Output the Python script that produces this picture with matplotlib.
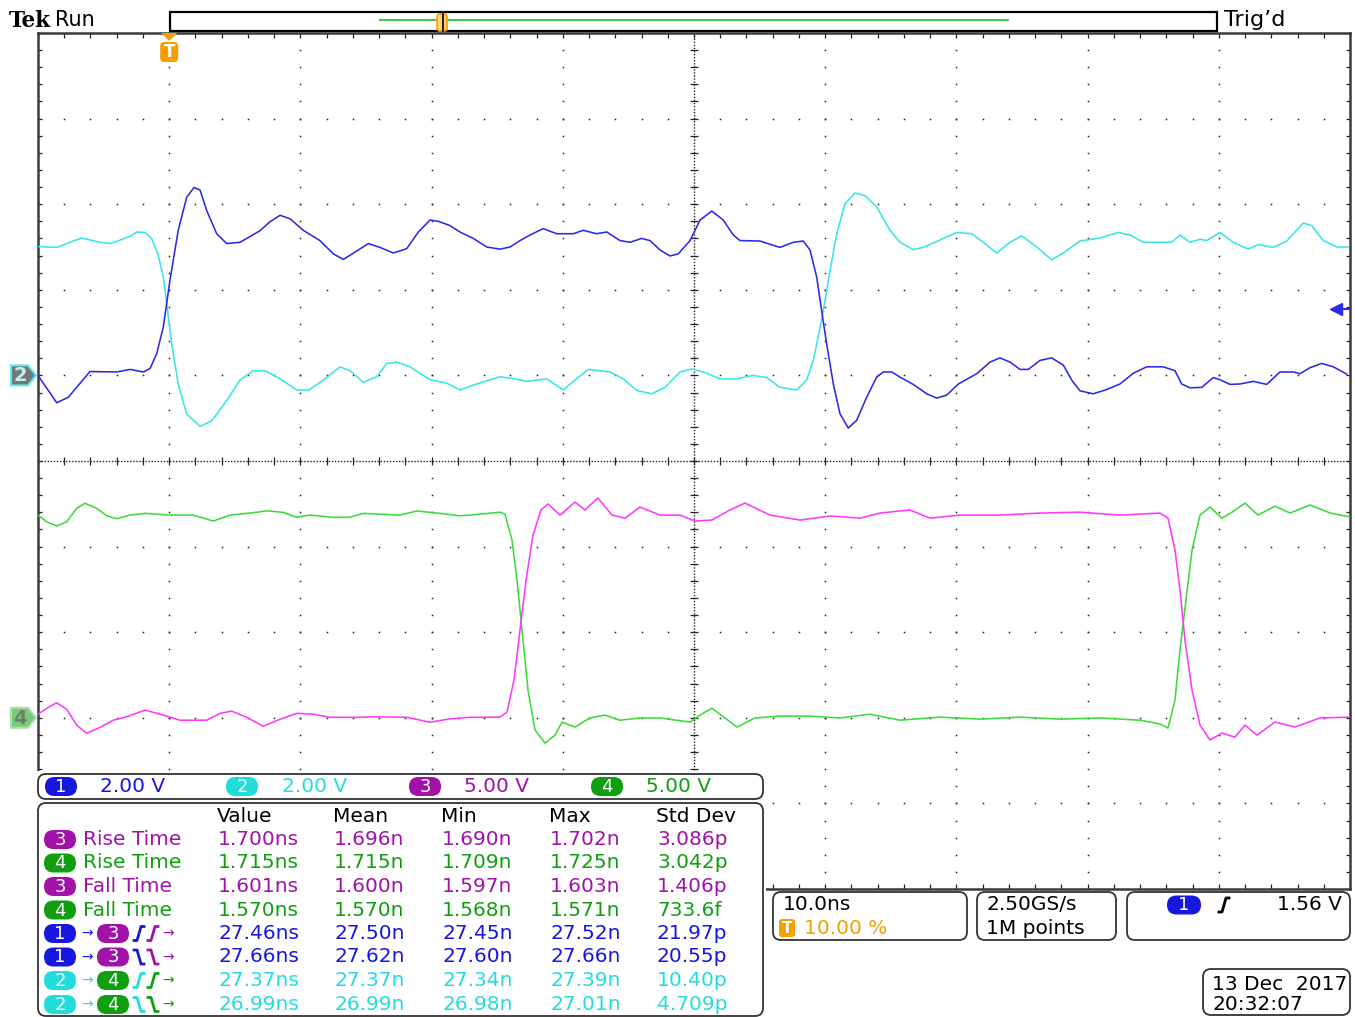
import matplotlib
matplotlib.use('Agg')
import matplotlib.pyplot as plt
from matplotlib.patches import FancyBboxPatch, Polygon, Rectangle
from matplotlib.collections import LineCollection
import numpy as np

plt.rcParams['font.family'] = ['DejaVu Sans']

# ---------------- data (time in ns, trigger at 0; voltage in V) ----------------
ch1_t = [-10.0, -8.57, -7.69, -6.04, -4.00, -2.99, -1.97, -1.46, -0.95, -0.45, 0.06, 0.69, 1.33, 1.89,
         2.35, 2.86, 3.62, 4.38, 5.40, 6.92, 7.68, 8.45, 9.21, 10.22, 11.49, 12.51, 13.27, 14.16, 15.18,
         16.07, 17.08, 18.10, 18.99, 19.88, 20.51, 21.40, 22.16, 23.18, 24.20, 25.21, 25.98, 26.74, 27.50,
         28.51, 29.53, 30.80, 31.56, 32.58, 33.35, 34.36, 35.12, 36.01, 36.65, 37.41, 38.17, 38.80, 39.70,
         40.46, 41.35, 42.23, 43.00, 43.51, 45.03, 46.55, 47.57, 48.33, 48.84, 49.35, 49.73, 50.11, 50.62,
         51.13, 51.76, 52.40, 53.16, 53.92, 54.43, 55.07, 55.70, 56.71, 57.74, 58.50, 59.26, 60.15, 61.55,
         62.56, 63.32, 64.09, 64.85, 65.48, 66.37, 67.26, 68.15, 68.79, 69.42, 70.43, 71.46, 72.47, 73.48,
         74.50, 75.77, 76.66, 77.17, 77.80, 78.70, 79.58, 80.09, 80.85, 81.62, 82.63, 83.65, 84.66, 85.68,
         86.19, 86.95, 87.84, 88.73, 89.75]
ch1_v = [0.00, -0.64, -0.51, 0.09, 0.08, 0.14, 0.08, 0.16, 0.51, 1.13, 2.23, 3.39, 4.16, 4.39,
         4.33, 3.85, 3.31, 3.08, 3.11, 3.38, 3.59, 3.74, 3.66, 3.39, 3.15, 2.84, 2.71, 2.88, 3.08,
         2.99, 2.86, 2.96, 3.35, 3.63, 3.60, 3.50, 3.35, 3.20, 3.00, 2.95, 3.00, 3.15, 3.28,
         3.43, 3.31, 3.31, 3.39, 3.31, 3.35, 3.15, 3.11, 3.20, 3.15, 2.93, 2.79, 2.84, 3.15,
         3.63, 3.84, 3.63, 3.28, 3.15, 3.14, 2.99, 3.11, 3.14, 2.93, 2.30, 1.51, 0.74, -0.20,
         -0.90, -1.23, -1.05, -0.51, -0.04, 0.08, 0.08, -0.04, -0.21, -0.43, -0.53, -0.46, -0.20, 0.04,
         0.31, 0.41, 0.31, 0.14, 0.14, 0.35, 0.41, 0.24, -0.11, -0.36, -0.43, -0.33, -0.20, 0.05,
         0.20, 0.20, 0.11, -0.20, -0.29, -0.28, -0.05, -0.10, -0.21, -0.20, -0.14, -0.21, 0.08, 0.08,
         0.04, 0.18, 0.28, 0.20, 0.03]

ch2_t = [-10.0, -8.57, -7.56, -6.67, -5.27, -4.51, -4.00, -2.99, -2.48, -1.84, -1.33, -0.83, -0.45, -0.19,
         0.19, 0.69, 1.33, 2.35, 3.24, 4.38, 5.40, 6.41, 7.30, 8.45, 9.72, 10.60, 11.75, 13.02, 13.78,
         14.79, 15.82, 16.58, 17.34, 18.35, 19.88, 21.15, 22.16, 23.44, 25.21, 26.36, 27.25, 28.77, 30.04,
         30.93, 31.94, 33.60, 34.61, 35.63, 36.78, 37.79, 38.93, 39.82, 40.71, 41.98, 43.25, 44.52, 45.54,
         46.55, 47.83, 48.59, 49.09, 49.47, 49.86, 50.37, 50.88, 51.51, 52.27, 53.03, 53.92, 54.94, 55.70,
         56.71, 57.48, 58.50, 60.02, 61.17, 62.05, 63.07, 64.09, 64.98, 66.12, 67.26, 68.15, 69.42, 70.95,
         72.34, 73.23, 74.25, 76.41, 77.04, 77.80, 78.57, 79.08, 80.09, 81.10, 82.25, 83.01, 84.15, 85.18,
         86.44, 87.08, 87.96, 88.99, 89.87]
ch2_v = [3.01, 2.99, 3.11, 3.21, 3.11, 3.08, 3.13, 3.25, 3.35, 3.34, 3.19, 2.80, 2.30, 1.68,
         0.74, -0.20, -0.90, -1.19, -1.06, -0.59, -0.11, 0.11, 0.11, -0.08, -0.34, -0.35, -0.11, 0.20, 0.11,
         -0.16, -0.03, 0.28, 0.31, 0.20, -0.10, -0.18, -0.34, -0.20, -0.03, -0.08, -0.14, -0.08, -0.34,
         -0.11, 0.14, 0.08, -0.08, -0.35, -0.43, -0.28, 0.08, 0.15, 0.08, -0.08, -0.08, 0.00, -0.05,
         -0.28, -0.34, -0.11, 0.35, 0.90, 1.51, 2.45, 3.31, 4.01, 4.26, 4.20, 3.94, 3.39, 3.11,
         2.94, 2.99, 3.13, 3.34, 3.31, 3.11, 2.86, 3.11, 3.26, 3.00, 2.70, 2.86, 3.14, 3.21,
         3.34, 3.28, 3.11, 3.11, 3.28, 3.11, 3.18, 3.15, 3.34, 3.11, 2.95, 3.06, 2.99, 3.14,
         3.56, 3.50, 3.15, 3.00, 3.00]

ch3_t = [-10.0, -9.34, -8.57, -7.81, -7.05, -6.29, -5.27, -4.26, -3.24, -1.84, -0.45, 0.82, 2.86, 3.87,
         4.76, 5.91, 7.17, 8.45, 9.72, 10.98, 12.26, 14.79, 15.56, 18.10, 19.88, 21.40, 22.93, 25.21,
         25.75, 26.28, 26.74, 27.20, 27.73, 28.34, 28.87, 29.79, 30.93, 31.69, 32.68, 33.75, 34.74, 35.88,
         37.41, 38.93, 40.08, 41.37, 42.74, 43.89, 45.79, 48.08, 50.37, 52.65, 54.18, 56.46, 57.99, 60.27,
         63.32, 66.37, 69.42, 72.47, 75.52, 76.13, 76.66, 77.04, 77.42, 77.96, 78.57, 79.33, 80.24, 81.23,
         82.00, 82.91, 84.28, 85.81, 87.71, 90.00]
ch3_v = [0.21, 0.55, 0.88, 0.49, -0.43, -0.91, -0.56, -0.14, 0.06, 0.45, 0.16, -0.14, -0.14, 0.26,
         0.39, 0.03, -0.49, -0.09, 0.26, 0.21, 0.03, 0.03, 0.06, 0.03, -0.26, -0.06, 0.03, 0.04,
         0.34, 2.20, 5.13, 8.05, 10.68, 12.14, 12.49, 11.84, 12.60, 12.14, 12.84, 11.84, 11.66, 12.31,
         11.84, 11.84, 11.49, 11.55, 12.14, 12.54, 11.84, 11.55, 11.79, 11.66, 11.96, 12.14, 11.66, 11.84,
         11.84, 11.96, 12.01, 11.84, 11.96, 11.66, 9.80, 7.46, 4.54, 1.61, -0.43, -1.30, -0.89, -1.13,
         -0.43, -1.01, -0.25, -0.54, -0.01, 0.04]

ch4_t = [-10.0, -9.34, -8.57, -7.81, -7.05, -6.42, -5.53, -4.76, -4.00, -2.99, -1.84, 0.06, 1.84, 3.36,
         4.63, 6.41, 7.43, 8.70, 9.72, 10.73, 12.51, 13.78, 14.79, 17.59, 18.86, 20.64, 22.16, 22.93,
         25.21, 25.59, 26.13, 26.51, 26.89, 27.35, 27.88, 28.64, 29.41, 29.94, 30.93, 32.07, 33.22, 34.36,
         35.88, 37.41, 39.70, 40.46, 41.37, 42.36, 43.28, 44.65, 46.55, 48.84, 51.13, 53.41, 55.70, 58.75,
         61.80, 64.85, 67.90, 70.95, 73.99, 75.52, 76.13, 76.66, 77.04, 77.50, 77.96, 78.57, 79.33, 80.24,
         81.01, 82.00, 82.99, 84.28, 85.43, 86.95, 88.48, 90.00]
ch4_v = [11.84, 11.45, 11.20, 11.45, 12.24, 12.53, 12.24, 11.80, 11.63, 11.84, 11.94, 11.84, 11.84, 11.49,
         11.84, 11.98, 12.09, 12.00, 11.71, 11.84, 11.71, 11.71, 11.94, 11.84, 12.08, 11.94, 11.80, 11.84,
         12.01, 11.90, 10.38, 8.05, 5.13, 1.61, -0.71, -1.48, -1.01, -0.25, -0.54, -0.01, 0.16, -0.14,
         -0.01, -0.01, -0.25, 0.16, 0.56, -0.01, -0.54, -0.01, 0.10, 0.10, -0.01, 0.21, -0.14, 0.04,
         -0.08, 0.04, -0.08, -0.01, -0.14, -0.36, -0.60, 1.04, 3.95, 6.88, 9.80, 11.84, 12.31, 11.66,
         12.01, 12.54, 11.84, 12.36, 11.96, 12.43, 11.96, 11.73]

ch_scale = [2.0, 2.0, 5.0, 5.0]          # V/div
ch_offset = [1.0, 1.0, -3.0, -3.0]       # ground position, divisions
ch_scale_labels = ['2.00 V', '2.00 V', '5.00 V', '5.00 V']
trigger_level = 1.56                     # V on channel 1
time_per_div = '10.0ns'
trigger_pos = '10.00 %'

meas_kind = ['rise', 'rise', 'fall', 'fall', 'delay_r', 'delay_f', 'delay_r', 'delay_f']
meas_from = [3, 4, 3, 4, 1, 1, 2, 2]
meas_to = [0, 0, 0, 0, 3, 3, 4, 4]
meas_value = ['1.700ns', '1.715ns', '1.601ns', '1.570ns', '27.46ns', '27.66ns', '27.37ns', '26.99ns']
meas_mean = ['1.696n', '1.715n', '1.600n', '1.570n', '27.50n', '27.62n', '27.37n', '26.99n']
meas_min = ['1.690n', '1.709n', '1.597n', '1.568n', '27.45n', '27.60n', '27.34n', '26.98n']
meas_max = ['1.702n', '1.725n', '1.603n', '1.571n', '27.52n', '27.66n', '27.39n', '27.01n']
meas_std = ['3.086p', '3.042p', '1.406p', '733.6f', '21.97p', '20.55p', '10.40p', '4.709p']
meas_headers = ['Value', 'Mean', 'Min', 'Max', 'Std Dev']

# ---------------- styling ----------------
trace_col = ['#2b2be6', '#38e6e6', '#ff38ff', '#38dd38']
text_col = ['#1717e0', '#22dcdc', '#a012a8', '#119f11']
ORANGE = '#f5a000'
FS = 14.5

W, H = 1355, 1017
GL, GR, GT, GB = 38, 1350, 33, 889
fig = plt.figure(figsize=(W / 100, H / 100), dpi=100)
fig.patch.set_facecolor('white')

ax = fig.add_axes([GL / W, 1 - GB / H, (GR - GL) / W, (GB - GT) / H])
ax.set_xlim(-10, 90)
ax.set_ylim(-5, 5)
ax.set_xticks([])
ax.set_yticks([])
for s in ax.spines.values():
    s.set_color('#3a3a3a')
    s.set_linewidth(1.8)

# graticule dots
xs_minor = np.arange(-10, 90.01, 2)
ys_minor = np.arange(-5, 5.01, 0.2)
for xm in range(0, 90, 10):
    if xm == 40:
        continue
    ax.plot(np.full_like(ys_minor, xm), ys_minor, ls='none', marker='s', ms=1.1, mec='none', mfc='#222')
for ym in range(-4, 5):
    if ym == 0:
        continue
    ax.plot(xs_minor, np.full_like(xs_minor, ym), ls='none', marker='s', ms=1.1, mec='none', mfc='#222')
# centre cross
ax.plot([40, 40], [-5, 5], ls=(0, (1, 1.2)), lw=1.0, color='#222')
ax.plot([-10, 90], [0, 0], ls=(0, (1, 1.2)), lw=1.0, color='#222')
segs = [[(40 - 0.3, y), (40 + 0.3, y)] for y in ys_minor]
segs += [[(x, -0.05), (x, 0.05)] for x in xs_minor]
# border ticks
segs += [[(x, 5), (x, 4.94)] for x in xs_minor] + [[(x, -5), (x, -4.94)] for x in xs_minor]
segs += [[(-10, y), (-9.7, y)] for y in ys_minor] + [[(90, y), (89.7, y)] for y in ys_minor]
ax.add_collection(LineCollection(segs, colors='#222', linewidths=0.9))

# traces
traces = [(ch2_t, ch2_v, 1), (ch1_t, ch1_v, 0), (ch4_t, ch4_v, 3), (ch3_t, ch3_v, 2)]
for t, v, i in traces:
    y = np.array(v) / ch_scale[i] + ch_offset[i]
    ax.plot(t, y, color=trace_col[i], lw=1.15, zorder=5, solid_joinstyle='round')

# trigger level arrow on right edge
ty = trigger_level / ch_scale[0] + ch_offset[0]
ax.plot([88.9], [ty], marker='<', ms=8, color=trace_col[0], clip_on=False, zorder=6)
ax.plot([89.0, 90], [ty, ty], color=trace_col[0], lw=1.5, clip_on=False, zorder=6)

# ---------------- overlay (pixel coordinates) ----------------
ov = fig.add_axes([0, 0, 1, 1], facecolor='none')
ov.set_xlim(0, W)
ov.set_ylim(H, 0)
ov.axis('off')


def ypx(div):
    return GT + (5 - div) * (GB - GT) / 10.0


def xpx(ns):
    return GL + (ns + 10) * (GR - GL) / 100.0


def rbox(x0, y0, x1, y1, fc='white', ec='#333333', lw=1.3, r=8, z=5):
    p = FancyBboxPatch((x0, y0), x1 - x0, y1 - y0, boxstyle='round,pad=0,rounding_size=%g' % r,
                       fc=fc, ec=ec, lw=lw, zorder=z)
    ov.add_patch(p)


def badge(cx, cy, n, w=32, h=19):
    rbox(cx - w / 2, cy - h / 2, cx + w / 2, cy + h / 2, fc=text_col[n - 1], ec='none', r=9.5, z=7)
    ov.text(cx, cy + 0.5, str(n), color='white', fontsize=13, ha='center', va='center', zorder=8)


def edge(x0, yc, rising, color):
    h = 7
    if rising:
        pts = [(x0, yc + h), (x0 + 3, yc + h), (x0 + 7, yc - h), (x0 + 10, yc - h)]
    else:
        pts = [(x0, yc - h), (x0 + 3, yc - h), (x0 + 7, yc + h), (x0 + 10, yc + h)]
    xs, ys = zip(*pts)
    ov.plot(xs, ys, color=color, lw=2.0, zorder=8, solid_joinstyle='round')


def txt(x, y, s, color='black', ha='left', size=FS, **kw):
    ov.text(x, y, s, color=color, fontsize=size, ha=ha, va='center', zorder=8, **kw)


# header
ov.text(9, 21, 'Tek', fontsize=15.5, fontweight='bold', family='DejaVu Serif', va='center', ha='left')
txt(55, 20, 'Run', size=15)
txt(1224, 20, 'Trig\u2019d', size=16)
ov.add_patch(Rectangle((170, 12), 1047, 19, fc='white', ec='black', lw=1.6, zorder=5))
ov.plot([380, 1008], [20, 20], color='#44cc44', lw=1.5, zorder=6)
rbox(437, 14, 447, 31, fc='#ffd27a', ec=ORANGE, lw=1.2, r=3, z=6)
ov.plot([443, 443], [12, 31], color='#222', lw=1.4, zorder=7)

# trigger position marker
tx = xpx(0)
ov.add_patch(Polygon([(tx - 8, GT), (tx + 8, GT), (tx, GT + 8)], closed=True, fc=ORANGE, ec='none', zorder=7))
rbox(tx - 9, GT + 9, tx + 9, GT + 29, fc=ORANGE, ec='none', r=4, z=7)
ov.text(tx, GT + 19, 'T', color='white', fontsize=12, fontweight='bold', ha='center', va='center', zorder=8)

# channel ground markers
for lab, off, fc, ec, tc in [('2', ch_offset[1], '#6f7b78', '#5fe8e8', '#c8eeee'),
                             ('4', ch_offset[3], '#7cc87c', '#a8e0a8', '#6a7f6a')]:
    yc = ypx(off)
    ov.add_patch(Polygon([(11, yc - 10), (28, yc - 10), (36, yc), (28, yc + 10), (11, yc + 10)],
                         closed=True, fc=fc, ec=ec, lw=1.5, zorder=7))
    ov.text(20, yc + 0.5, lab, color=tc, fontsize=14, fontweight='bold', ha='center', va='center', zorder=8)

# readout area backdrop
ov.add_patch(Rectangle((30, 771), 736, 250, fc='white', ec='none', zorder=4))

# channel box
rbox(38, 774, 763, 799)
cy = 786.5
for i, (bx, lx) in enumerate([(61, 100), (242, 282), (425, 464), (607, 646)]):
    badge(bx, cy, i + 1)
    txt(lx, cy, ch_scale_labels[i], color=text_col[i])

# measurement box
rbox(38, 803, 763, 1016)
col_x = [217, 333, 441, 549, 656]
for x, h in zip(col_x, meas_headers):
    txt(x, 816, h)
row_y = [839.5, 863, 886.5, 910, 933.5, 957, 980.5, 1004.5]
for r in range(len(meas_kind)):
    y = row_y[r]
    src = meas_from[r]
    col = text_col[src - 1]
    badge(60, y, src)
    if meas_kind[r] in ('rise', 'fall'):
        txt(83, y, 'Rise Time' if meas_kind[r] == 'rise' else 'Fall Time', color=col)
    else:
        dst = meas_to[r]
        dcol = text_col[dst - 1]
        txt(81, y, '\u2192', color=col, size=10)
        badge(113, y, dst)
        rising = meas_kind[r] == 'delay_r'
        edge(134, y, rising, col)
        edge(148, y, rising, dcol)
        txt(162, y, '\u2192', color=dcol, size=10)
    for x, s in zip(col_x, [meas_value[r], meas_mean[r], meas_min[r], meas_max[r], meas_std[r]]):
        txt(x + 1, y, s, color=col)

# horizontal box
rbox(773, 892, 967, 940)
txt(783, 905, time_per_div)
rbox(779, 919, 795, 937, fc=ORANGE, ec='none', r=3, z=7)
ov.text(787, 928.5, 'T', color='white', fontsize=11, fontweight='bold', ha='center', va='center', zorder=8)
txt(804, 928, trigger_pos, color=ORANGE)

# acquisition box
rbox(977, 892, 1116, 940)
txt(986, 905, '2.50GS/s')
txt(986, 928, '1M points')

# trigger box
rbox(1127, 892, 1350, 940)
badge(1184, 905, 1, w=34)
edge(1219, 905, True, 'black')
txt(1342, 905, '%.2f V' % trigger_level, ha='right')

# date box
rbox(1203, 969, 1350, 1015)
txt(1212, 984, '13 Dec  2017')
txt(1212, 1005, '20:32:07')

fig.savefig('out.png', dpi=100, facecolor='white')
